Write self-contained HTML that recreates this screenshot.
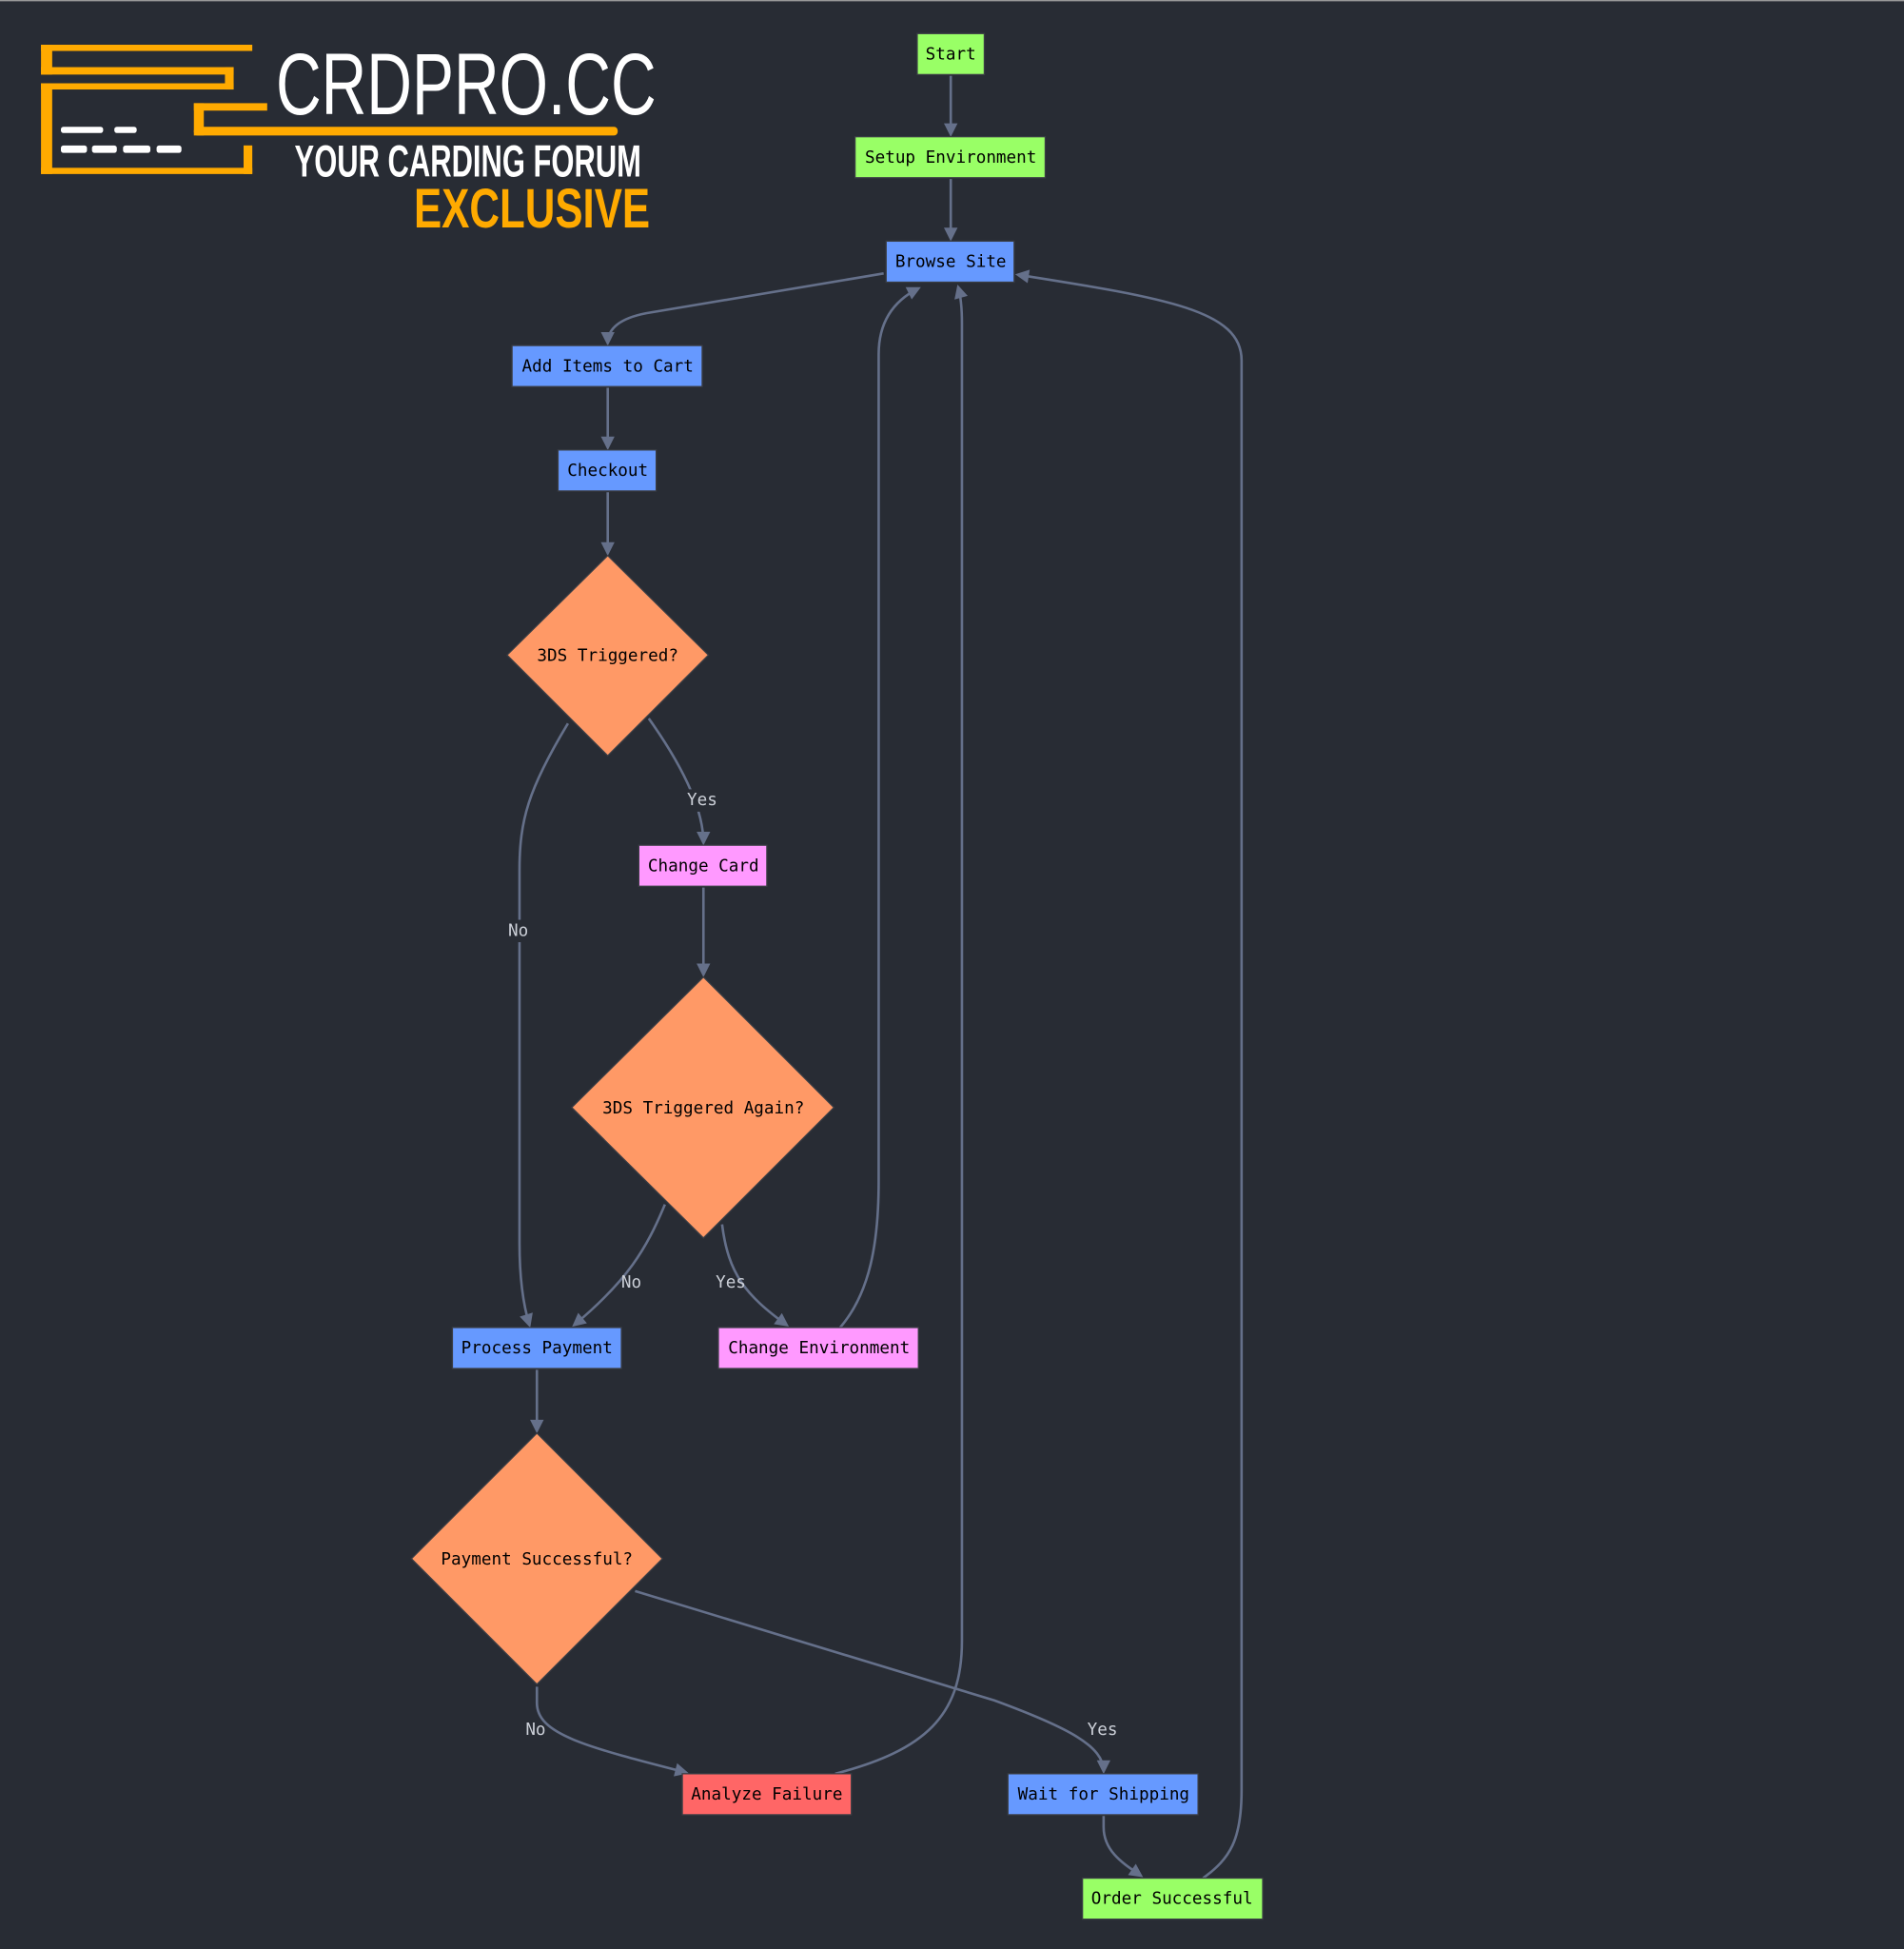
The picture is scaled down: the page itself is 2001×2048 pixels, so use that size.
<!DOCTYPE html>
<html><head><meta charset="utf-8"><style>
html,body{margin:0;padding:0;background:#282c34;}
svg{display:block;}
.n{font-family:"DejaVu Sans Mono","Liberation Mono",monospace;font-size:13.5px;fill:#000;text-anchor:middle;dominant-baseline:central;}
.l{font-family:"DejaVu Sans Mono","Liberation Mono",monospace;font-size:13.5px;fill:#ccd0d8;text-anchor:middle;dominant-baseline:central;}
.e{fill:none;stroke:#65708a;stroke-width:2;}
</style></head><body>
<svg width="2001" height="2048" viewBox="0 0 1532 1568" preserveAspectRatio="none" xmlns="http://www.w3.org/2000/svg">
<defs>
<marker id="a" viewBox="0 0 10 10" refX="8" refY="5" markerWidth="12" markerHeight="11" orient="auto-start-reverse" markerUnits="userSpaceOnUse">
<path d="M0,0 L10,5 L0,10 z" fill="#65708a"/></marker>
</defs>
<rect width="1532" height="1568" fill="#282c34"/>
<line x1="0" y1="0.5" x2="1532" y2="0.5" stroke="#999" stroke-width="1.2"/>

<!-- logo -->
<g fill="#ffaa00">
<rect x="33" y="36" width="170" height="5"/>
<rect x="33" y="36" width="9" height="24"/>
<rect x="33" y="54" width="155" height="6"/>
<rect x="181" y="54" width="7" height="18"/>
<rect x="33" y="67" width="155" height="5"/>
<rect x="33" y="67" width="9" height="73"/>
<rect x="33" y="135" width="170" height="5"/>
<rect x="196" y="117" width="7" height="23"/>
<rect x="156" y="83" width="59" height="6"/>
<rect x="156" y="83" width="8" height="26"/>
<rect x="156" y="102" width="341" height="7" rx="3"/>
</g>
<g fill="#fff">
<rect x="49" y="102" width="34" height="5" rx="2"/>
<rect x="92" y="102" width="18" height="5" rx="2"/>
<rect x="49" y="117" width="21" height="6" rx="2"/>
<rect x="74" y="117" width="20" height="6" rx="2"/>
<rect x="99" y="117" width="22" height="6" rx="2"/>
<rect x="126" y="117" width="20" height="6" rx="2"/>
</g>
<text x="222" y="92" font-family="'Liberation Sans Narrow','Liberation Sans',sans-serif" font-size="70" fill="#fff" textLength="306" lengthAdjust="spacingAndGlyphs">CRDPRO.CC</text>
<text x="237" y="142" font-family="'Liberation Sans Narrow','Liberation Sans',sans-serif" font-weight="bold" font-size="36" fill="#fff" textLength="279" lengthAdjust="spacingAndGlyphs">YOUR CARDING FORUM</text>
<text x="333" y="183" font-family="'Liberation Sans Narrow','Liberation Sans',sans-serif" font-weight="bold" font-size="45" fill="#ffaa00" textLength="190" lengthAdjust="spacingAndGlyphs">EXCLUSIVE</text>

<!-- edges -->
<path class="e" marker-end="url(#a)" d="M765,61 L765,108"/>
<path class="e" marker-end="url(#a)" d="M765,144 L765,192"/>
<path class="e" marker-end="url(#a)" d="M711,220 L520,252 Q489,258 489,276"/>
<path class="e" marker-end="url(#a)" d="M489,312 L489,360"/>
<path class="e" marker-end="url(#a)" d="M489,396 L489,445"/>
<path class="e" marker-end="url(#a)" d="M522,578 Q566,640 566,678"/>
<path class="e" marker-end="url(#a)" d="M457,582 C425,635 418,660 418,700 L418,1000 Q418,1040 426,1066"/>
<path class="e" marker-end="url(#a)" d="M566,714 L566,784"/>
<path class="e" marker-end="url(#a)" d="M535,969 C520,1005 505,1030 462,1066"/>
<path class="e" marker-end="url(#a)" d="M581,985 C586,1025 600,1042 633,1066"/>
<path class="e" marker-end="url(#a)" d="M676,1068 C700,1040 707,1000 707,950 L707,285 Q707,248 739,232"/>
<path class="e" marker-end="url(#a)" d="M672,1427 C745,1408 774,1380 774,1320 L774,260 Q774,242 771,231"/>
<path class="e" marker-end="url(#a)" d="M968,1511 C990,1495 999,1480 999,1440 L999,290 C999,250 940,240 819,221"/>
<path class="e" marker-end="url(#a)" d="M432,1102 L432,1151"/>
<path class="e" marker-end="url(#a)" d="M432,1357 L432,1370 C432,1395 470,1405 552,1426"/>
<path class="e" marker-end="url(#a)" d="M511,1280 L800,1368 C860,1390 888,1405 888,1425"/>
<path class="e" marker-end="url(#a)" d="M888,1461 L888,1470 C888,1490 905,1500 918,1509"/>

<!-- edge labels -->
<rect x="552" y="635" width="27" height="18" fill="#282c34"/><text class="l" x="565" y="644">Yes</text>
<rect x="406" y="740" width="22" height="18" fill="#282c34"/><text class="l" x="417" y="749">No</text>
<text class="l" x="508" y="1032">No</text>
<text class="l" x="588" y="1032">Yes</text>
<text class="l" x="431" y="1392">No</text>
<text class="l" x="887" y="1392">Yes</text>

<!-- nodes -->
<g stroke="#3a3d44" stroke-width="1">
<rect x="738" y="27" width="54" height="33" fill="#99ff66"/>
<rect x="688" y="110" width="153" height="33" fill="#99ff66"/>
<rect x="713" y="194" width="103" height="33" fill="#6699ff"/>
<rect x="412" y="278" width="153" height="33" fill="#6699ff"/>
<rect x="449" y="362" width="79" height="33" fill="#6699ff"/>
<polygon points="489,447 570,527 489,608 408,527" fill="#ff9966"/>
<rect x="514" y="680" width="103" height="33" fill="#ff99ff"/>
<polygon points="566,786 671,891 566,996 460,891" fill="#ff9966"/>
<rect x="364" y="1068" width="136" height="33" fill="#6699ff"/>
<rect x="578" y="1068" width="161" height="33" fill="#ff99ff"/>
<polygon points="432,1153 533,1254 432,1355 331,1254" fill="#ff9966"/>
<rect x="549" y="1427" width="136" height="33" fill="#ff6666"/>
<rect x="811" y="1427" width="153" height="33" fill="#6699ff"/>
<rect x="871" y="1511" width="145" height="33" fill="#99ff66"/>
</g>
<text class="n" x="765" y="44">Start</text>
<text class="n" x="765" y="127">Setup Environment</text>
<text class="n" x="765" y="211">Browse Site</text>
<text class="n" x="489" y="295">Add Items to Cart</text>
<text class="n" x="489" y="379">Checkout</text>
<text class="n" x="489" y="528">3DS Triggered?</text>
<text class="n" x="566" y="697">Change Card</text>
<text class="n" x="566" y="892">3DS Triggered Again?</text>
<text class="n" x="432" y="1085">Process Payment</text>
<text class="n" x="659" y="1085">Change Environment</text>
<text class="n" x="432" y="1255">Payment Successful?</text>
<text class="n" x="617" y="1444">Analyze Failure</text>
<text class="n" x="888" y="1444">Wait for Shipping</text>
<text class="n" x="943" y="1528">Order Successful</text>
</svg>
</body></html>
